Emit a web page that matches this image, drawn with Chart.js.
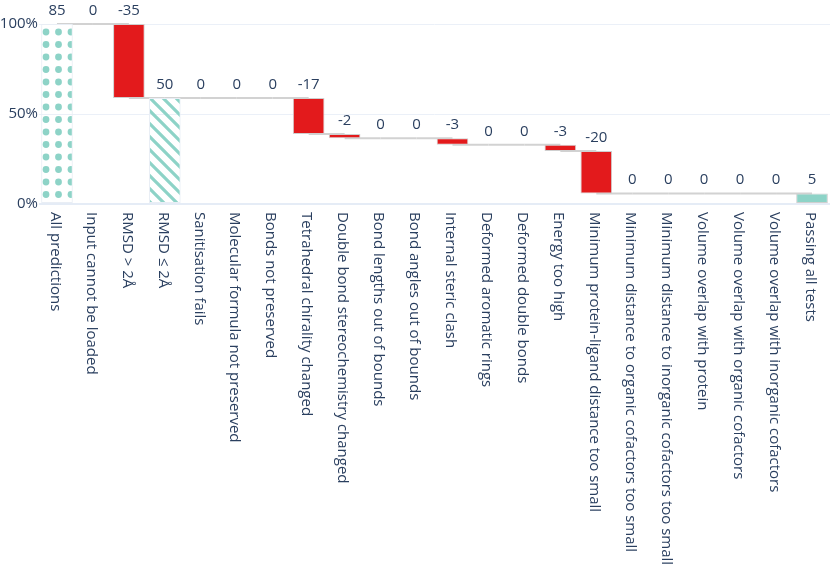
<!DOCTYPE html>
<html>
<head>
<meta charset="utf-8">
<script src="https://cdn.jsdelivr.net/npm/chart.js@4"></script>
<style>
  html, body { margin: 0; padding: 0; background: #fff; }
  #wrap { width: 830px; height: 575px; }
</style>
</head>
<body>
<div id="wrap"><canvas id="waterfall"></canvas></div>
<script>
const categories = [
  'All predictions', 'Input cannot be loaded', 'RMSD > 2Å', 'RMSD ≤ 2Å',
  'Sanitisation fails', 'Molecular formula not preserved', 'Bonds not preserved',
  'Tetrahedral chirality changed', 'Double bond stereochemistry changed',
  'Bond lengths out of bounds', 'Bond angles out of bounds', 'Internal steric clash',
  'Deformed aromatic rings', 'Deformed double bonds', 'Energy too high',
  'Minimum protein-ligand distance too small', 'Minimum distance to organic cofactors too small',
  'Minimum distance to inorganic cofactors too small', 'Volume overlap with protein',
  'Volume overlap with organic cofactors', 'Volume overlap with inorganic cofactors',
  'Passing all tests'
];
const values = [85, 0, -35, 50, 0, 0, 0, -17, -2, 0, 0, -3, 0, 0, -3, -20, 0, 0, 0, 0, 0, 5];
const measures = ['absolute', 'relative', 'relative', 'total', 'relative', 'relative', 'relative',
  'relative', 'relative', 'relative', 'relative', 'relative', 'relative', 'relative', 'relative',
  'relative', 'relative', 'relative', 'relative', 'relative', 'relative', 'total'];
const yTicks = [0, 50, 100]; // percent of all predictions

const total = values[0];
const TEAL = '#8dd3c7';
const RED = '#e31a1c';
const TEXT = '#2a3f5f';
const FONT = '15px "Open Sans"';

// floating bar ranges for the waterfall
let running = 0;
const ranges = values.map((v, i) => {
  if (measures[i] === 'absolute') { running = v; return [0, v]; }
  if (measures[i] === 'total') { return [0, running]; }
  const start = running;
  running += v;
  return [start, running];
});

function dotPattern() {
  const cv = document.createElement('canvas');
  cv.width = 25; cv.height = 25;
  const g = cv.getContext('2d');
  g.fillStyle = TEAL;
  [[8.5, 7], [21, 7], [8.5, 19.5], [21, 19.5]].forEach(([x, y]) => {
    g.beginPath(); g.arc(x, y, 3.4, 0, Math.PI * 2); g.fill();
  });
  return g.createPattern(cv, 'repeat');
}

function stripePattern() {
  const s = 13;
  const cv = document.createElement('canvas');
  cv.width = s; cv.height = s;
  const g = cv.getContext('2d');
  g.strokeStyle = TEAL;
  g.lineWidth = 3.2;
  g.beginPath();
  g.moveTo(-s, 0); g.lineTo(s, 2 * s);
  g.moveTo(0, 0); g.lineTo(s, s);
  g.moveTo(0, -s); g.lineTo(2 * s, s);
  g.stroke();
  return g.createPattern(cv, 'repeat');
}

const fills = values.map((v, i) => {
  if (i === 0) return dotPattern();
  if (i === 3) return stripePattern();
  if (measures[i] === 'total') return TEAL;
  return RED;
});
const borders = values.map((v, i) => (i === 0 || i === 3) ? '#e9eef5' : '#cfcfcf');

const connectors = {
  id: 'connectors',
  beforeDatasetsDraw(chart) {
    const { ctx, scales: { x, y } } = chart;
    ctx.save();
    ctx.strokeStyle = '#d2d2d2';
    ctx.lineWidth = 2;
    for (let i = 0; i < ranges.length - 1; i++) {
      const py = y.getPixelForValue(ranges[i][1]);
      ctx.beginPath();
      ctx.moveTo(x.getPixelForValue(i), py);
      ctx.lineTo(x.getPixelForValue(i + 1), py);
      ctx.stroke();
    }
    ctx.restore();
  }
};

// value text above bars + category labels reading top to bottom
const textLayer = {
  id: 'textLayer',
  afterDatasetsDraw(chart) {
    const { ctx, scales: { x, y } } = chart;
    ctx.save();
    ctx.fillStyle = TEXT;
    ctx.font = FONT;
    ctx.textAlign = 'center';
    ctx.textBaseline = 'alphabetic';
    values.forEach((v, i) => {
      const top = Math.max(ranges[i][0], ranges[i][1]);
      const label = measures[i] === 'total' ? ranges[i][1] : v;
      ctx.fillText(String(label), x.getPixelForValue(i), y.getPixelForValue(top) - 9);
    });
    const y0 = y.getPixelForValue(0) + 8;
    categories.forEach((c, i) => {
      ctx.save();
      ctx.translate(x.getPixelForValue(i) - 2, y0);
      ctx.rotate(Math.PI / 2);
      ctx.textAlign = 'left';
      ctx.textBaseline = 'middle';
      ctx.fillText(c, 0, 0);
      ctx.restore();
    });
    ctx.restore();
  }
};

new Chart(document.getElementById('waterfall').getContext('2d'), {
  type: 'bar',
  data: {
    labels: categories,
    datasets: [{
      data: ranges,
      backgroundColor: fills,
      borderColor: borders,
      borderWidth: 1,
      borderSkipped: false,
      barPercentage: 0.88,
      categoryPercentage: 1.0
    }]
  },
  options: {
    responsive: true,
    maintainAspectRatio: false,
    animation: false,
    layout: { padding: { top: 24, right: 0, left: 0, bottom: 0 } },
    plugins: { legend: { display: false }, tooltip: { enabled: false } },
    scales: {
      x: {
        offset: true,
        grid: { display: false },
        border: { display: false },
        ticks: { display: false },
        afterFit(scale) { scale.height = 371; }
      },
      y: {
        min: 0,
        max: total,
        afterBuildTicks(scale) {
          scale.ticks = yTicks.map(p => ({ value: p / 100 * total }));
        },
        grid: {
          color: ctx => ctx.tick && ctx.tick.value === 0 ? '#e5ecf6' : '#ebf0f8',
          lineWidth: ctx => ctx.tick && ctx.tick.value === 0 ? 2 : 1,
          drawTicks: false
        },
        border: { display: false },
        ticks: {
          color: TEXT,
          font: { family: 'Open Sans', size: 15 },
          padding: 1,
          callback: v => Math.round(v / total * 100) + '%'
        },
        afterFit(scale) { scale.width = 39; }
      }
    }
  },
  plugins: [connectors, textLayer]
});
</script>
</body>
</html>
